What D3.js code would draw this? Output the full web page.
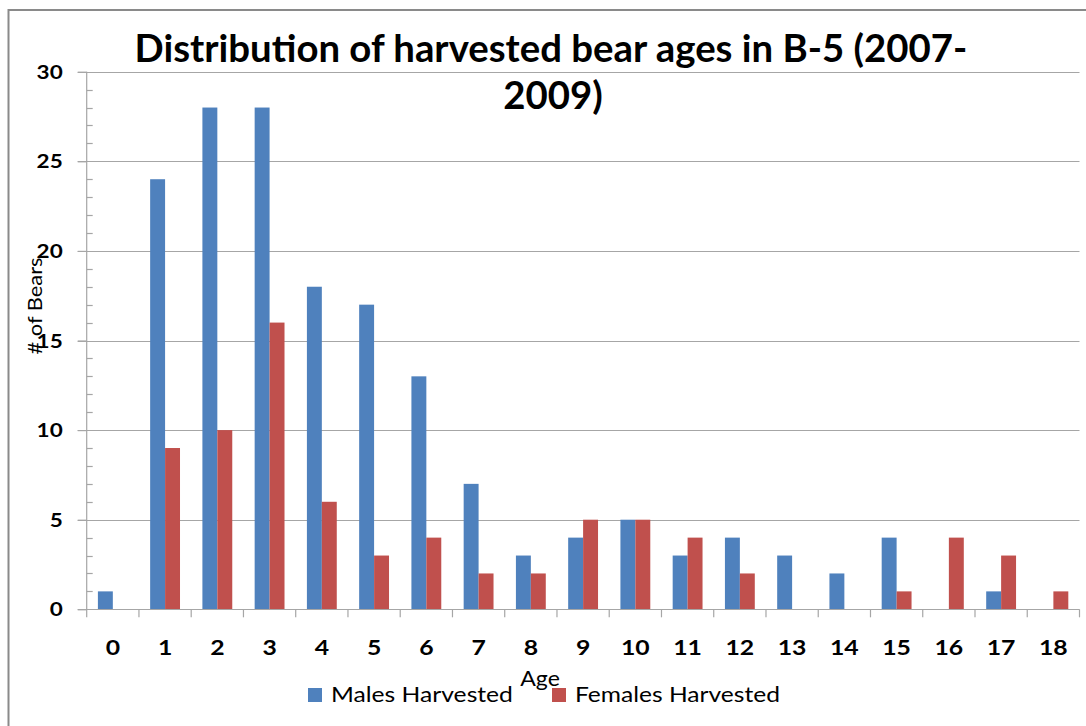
<!DOCTYPE html>
<html>
<head>
<meta charset="utf-8">
<script src="https://cdn.jsdelivr.net/npm/d3@7"></script>
<style>
  html, body { margin: 0; padding: 0; background: #fff; }
  svg { display: block; }
  text { font-family: Lato, "Open Sans", "Liberation Sans", sans-serif; fill: #000; }
</style>
</head>
<body>
<svg id="chart" width="1086" height="726"></svg>
<script>
// Harvested bears by age class, B-5, 2007-2009
const ages = ["0","1","2","3","4","5","6","7","8","9","10","11","12","13","14","15","16","17","18"];
const males = [1, 24, 28, 28, 18, 17, 13, 7, 3, 4, 5, 3, 4, 3, 2, 4, 0, 1, 0];
const females = [0, 9, 10, 16, 6, 3, 4, 2, 2, 5, 5, 4, 2, 0, 0, 1, 4, 3, 1];
const seriesNames = ["Males Harvested", "Females Harvested"];
const seriesColors = ["#4F81BD", "#C0504D"];
const majorTicks = [0, 5, 10, 15, 20, 25, 30];
const titleLines = ["Distribution of harvested bear ages in B-5 (2007-", "2009)"];

const svg = d3.select("#chart");

// place a text at (x, y) and stretch it horizontally by sx
function placeText(sel, x, y, sx) {
  return sel.attr("x", 0).attr("y", 0)
    .attr("transform", `translate(${x},${y}) scale(${sx},1)`);
}

// outer chart frame
svg.append("rect")
  .attr("x", 8.5).attr("y", 10)
  .attr("width", 1100).attr("height", 740)
  .attr("fill", "none").attr("stroke", "#8a8a8a").attr("stroke-width", 2);

const plot = { left: 86.7, right: 1079.5, top: 71.7, bottom: 609.3 };

const x = d3.scaleBand().domain(ages).range([plot.left, plot.right]).paddingInner(0).paddingOuter(0);
const xs = d3.scaleBand().domain(seriesNames).range([0, x.bandwidth()]).paddingInner(0).paddingOuter(0.75);
const y = d3.scaleLinear().domain([0, 30]).range([plot.bottom, plot.top]);

// horizontal gridlines (major) with outward tick stubs
svg.append("g").selectAll("line")
  .data(majorTicks.filter(v => v > 0))
  .join("line")
  .attr("x1", plot.left - 9).attr("x2", plot.right)
  .attr("y1", d => Math.round(y(d)) + 0.5).attr("y2", d => Math.round(y(d)) + 0.5)
  .attr("stroke", "#a6a6a6").attr("stroke-width", 1.2);

// minor tick marks on the inside of the value axis
const minor = d3.range(0, 31).filter(v => v % 5 !== 0);
svg.append("g").selectAll("line")
  .data(minor)
  .join("line")
  .attr("x1", plot.left).attr("x2", plot.left + 6)
  .attr("y1", d => Math.round(y(d)) + 0.5).attr("y2", d => Math.round(y(d)) + 0.5)
  .attr("stroke", "#a6a6a6").attr("stroke-width", 1.2);

// bars
const rows = ages.map((a, i) => ({ age: a, vals: [males[i], females[i]] }));
const groups = svg.append("g").selectAll("g")
  .data(rows)
  .join("g")
  .attr("transform", d => `translate(${x(d.age)},0)`);
groups.selectAll("rect")
  .data(d => d.vals.map((v, k) => ({ name: seriesNames[k], value: v, color: seriesColors[k] })))
  .join("rect")
  .filter(d => d.value > 0)
  .attr("x", d => xs(d.name))
  .attr("width", xs.bandwidth())
  .attr("y", d => y(d.value))
  .attr("height", d => y(0) - y(d.value))
  .attr("fill", d => d.color);

// value axis
const yAxis = d3.axisLeft(y).tickValues(majorTicks).tickSize(9).tickPadding(16);
const yg = svg.append("g").attr("transform", `translate(${plot.left},0)`).call(yAxis);
yg.select(".domain").attr("stroke", "#a6a6a6").attr("stroke-width", 1.2)
  .attr("d", `M0,${plot.top}V${plot.bottom}`);
yg.selectAll(".tick line").attr("stroke", "#a6a6a6").attr("stroke-width", 1.2);
yg.selectAll(".tick text")
  .style("font-size", "18px").style("font-weight", "bold")
  .attr("fill", "#000")
  .attr("x", null).attr("dy", null)
  .each(function () { placeText(d3.select(this), -24, 6.5, 1.25); });

// category axis
svg.append("line")
  .attr("x1", plot.left - 9).attr("x2", plot.right)
  .attr("y1", Math.round(plot.bottom) + 0.5).attr("y2", Math.round(plot.bottom) + 0.5)
  .attr("stroke", "#a6a6a6").attr("stroke-width", 1.2);
const bounds = ages.map(a => x(a)).concat([plot.right]);
svg.append("g").selectAll("line")
  .data(bounds)
  .join("line")
  .attr("x1", d => d).attr("x2", d => d)
  .attr("y1", plot.bottom).attr("y2", plot.bottom + 8)
  .attr("stroke", "#a6a6a6").attr("stroke-width", 1.2);
svg.append("g").selectAll("text")
  .data(ages)
  .join("text")
  .attr("text-anchor", "middle")
  .style("font-size", "21px").style("font-weight", "bold")
  .text(d => d)
  .each(function (d) { placeText(d3.select(this), x(d) + x.bandwidth() / 2, 655, 1.18); });

// axis titles
svg.append("text")
  .attr("transform", "translate(42,306) rotate(-90) scale(1.15,1)")
  .attr("text-anchor", "middle")
  .style("font-size", "19px")
  .text("# of Bears");
placeText(svg.append("text"), 540, 686, 1.1)
  .attr("text-anchor", "middle")
  .style("font-size", "21px")
  .text("Age");

// chart title
const t1 = svg.append("text")
  .attr("x", 551).attr("y", 62)
  .attr("text-anchor", "middle")
  .style("font-size", "34px").style("font-weight", "bold")
  .text(titleLines[0]);
const w1 = t1.node().getComputedTextLength();
const titleSize = 34 * 833 / w1;
t1.style("font-size", titleSize + "px");
svg.append("text")
  .attr("x", 553).attr("y", 109)
  .attr("text-anchor", "middle")
  .style("font-size", titleSize + "px").style("font-weight", "bold")
  .text(titleLines[1]);

// legend
const legendX = [308, 552];
const legendTextW = [182, 205];
const leg = svg.append("g").selectAll("g")
  .data(seriesNames)
  .join("g")
  .attr("transform", (d, i) => `translate(${legendX[i]},688)`);
leg.append("rect")
  .attr("width", 14).attr("height", 14)
  .attr("fill", (d, i) => seriesColors[i]);
leg.append("text")
  .style("font-size", "21px")
  .text(d => d)
  .each(function (d, i) {
    const w = this.getComputedTextLength();
    placeText(d3.select(this), 23, 14, legendTextW[i] / w);
  });
</script>
</body>
</html>
